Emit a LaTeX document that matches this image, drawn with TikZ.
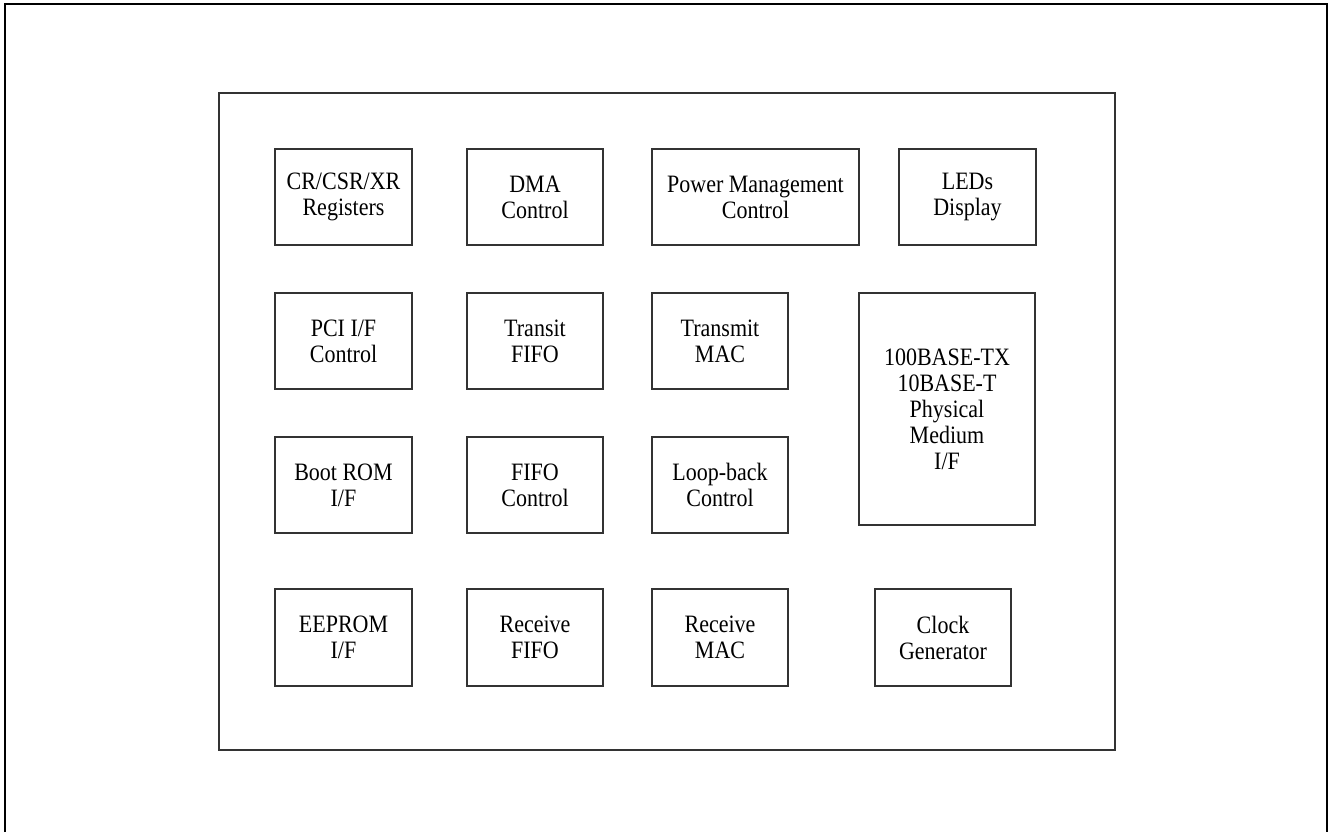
\documentclass[tikz,border=0pt]{standalone}
\usepackage{fontspec}
\setmainfont[FakeStretch=0.88]{Liberation Serif}
\begin{document}
\begin{tikzpicture}[x=1pt,y=-1pt,
  blk/.style={draw=black!80,line width=1.3pt,rectangle,inner sep=0pt,outer sep=0pt,
    align=center,font=\fontsize{25}{26}\selectfont},
  frame/.style={draw=black!80,line width=1.4pt}]
\useasboundingbox (0,0) rectangle (1329,832);
\draw[line width=2pt] (5,832) -- (5,4) -- (1327,4) -- (1327,832);
\node[frame,rectangle,inner sep=0pt,minimum width=896pt,minimum height=657pt] (chip) at (667,421.5) {};
\newcommand{\bx}[6]{\node[blk,minimum width={#4-#2},minimum height={#5-#3}] (#1) at ({(#2+#4)/2},{(#3+#5)/2}) {#6};}
\bx{cr}{275}{149}{412}{245}{CR/CSR/XR\\Registers}
\bx{dma}{467}{149}{603}{245}{DMA\\Control}
\bx{pm}{652}{149}{859}{245}{Power Management\\Control}
\bx{led}{899}{149}{1036}{245}{LEDs\\Display}
\bx{pci}{275}{293}{412}{389}{PCI I/F\\Control}
\bx{tfifo}{467}{293}{603}{389}{Transit\\FIFO}
\bx{tmac}{652}{293}{788}{389}{Transmit\\MAC}
\bx{phy}{859}{293}{1035}{525}{100BASE-TX\\10BASE-T\\Physical\\Medium\\I/F}
\bx{boot}{275}{437}{412}{533}{Boot ROM\\I/F}
\bx{fctl}{467}{437}{603}{533}{FIFO\\Control}
\bx{loop}{652}{437}{788}{533}{Loop-back\\Control}
\bx{ee}{275}{589}{412}{686}{EEPROM\\I/F}
\bx{rfifo}{467}{589}{603}{686}{Receive\\FIFO}
\bx{rmac}{652}{589}{788}{686}{Receive\\MAC}
\bx{clk}{875}{589}{1011}{686}{Clock\\Generator}
\end{tikzpicture}
\end{document}
